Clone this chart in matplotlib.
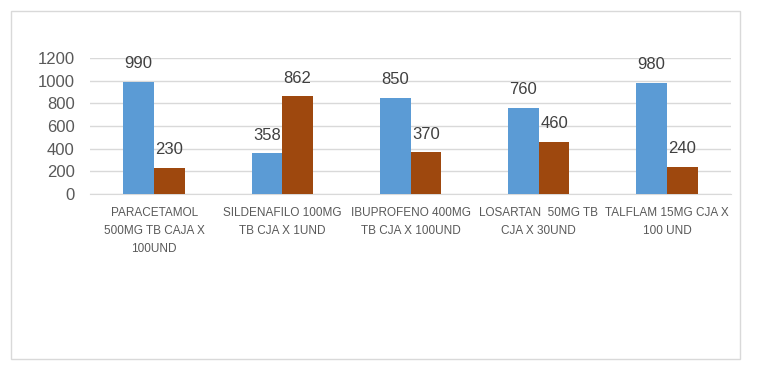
import matplotlib.pyplot as plt
import numpy as np
from matplotlib.patches import Rectangle

categories = [
    "PARACETAMOL\n500MG TB CAJA X\n100UND",
    "SILDENAFILO 100MG\nTB CJA X 1UND",
    "IBUPROFENO 400MG\nTB CJA X 100UND",
    "LOSARTAN  50MG TB\nCJA X 30UND",
    "TALFLAM 15MG CJA X\n100 UND",
]
serie1 = [990, 358, 850, 760, 980]
serie2 = [230, 862, 370, 460, 240]
yticks = [0, 200, 400, 600, 800, 1000, 1200]

plt.rcParams['font.family'] = ['Liberation Sans', 'DejaVu Sans']

fig = plt.figure(figsize=(7.61, 3.70), dpi=100)
fig.patches.append(Rectangle((11 / 761, 11 / 370), 729 / 761, 348 / 370,
                             transform=fig.transFigure, fill=False,
                             edgecolor='#d9d9d9', linewidth=1))

ax = fig.add_axes([90 / 761, 176 / 370, 641 / 761, 136 / 370])
x = np.arange(len(categories))
w = 0.24
b1 = ax.bar(x - w / 2, serie1, w, color='#5b9bd5', zorder=3)
b2 = ax.bar(x + w / 2, serie2, w, color='#9e480e', zorder=3)

for bars in (b1, b2):
    for r in bars:
        ax.annotate(f"{int(r.get_height())}",
                    (r.get_x() + r.get_width() / 2, r.get_height()),
                    xytext=(0, 9.7), textcoords='offset points',
                    ha='center', va='baseline', fontsize=12, color='#404040')

ax.set_xlim(-0.5, len(categories) - 0.5)
ax.set_ylim(0, 1200)
ax.set_yticks(yticks)
ax.set_xticks(x)
ax.set_xticklabels(categories, fontsize=8.5, color='#595959', linespacing=1.7)
ax.tick_params(axis='y', length=0, pad=11, labelsize=12, labelcolor='#595959')
ax.tick_params(axis='x', length=0, pad=9)
ax.grid(axis='y', color='#d9d9d9', linewidth=1, zorder=0)
for s in ['top', 'right', 'left']:
    ax.spines[s].set_visible(False)
ax.spines['bottom'].set_color('#d9d9d9')

fig.savefig('out.png', dpi=100)
